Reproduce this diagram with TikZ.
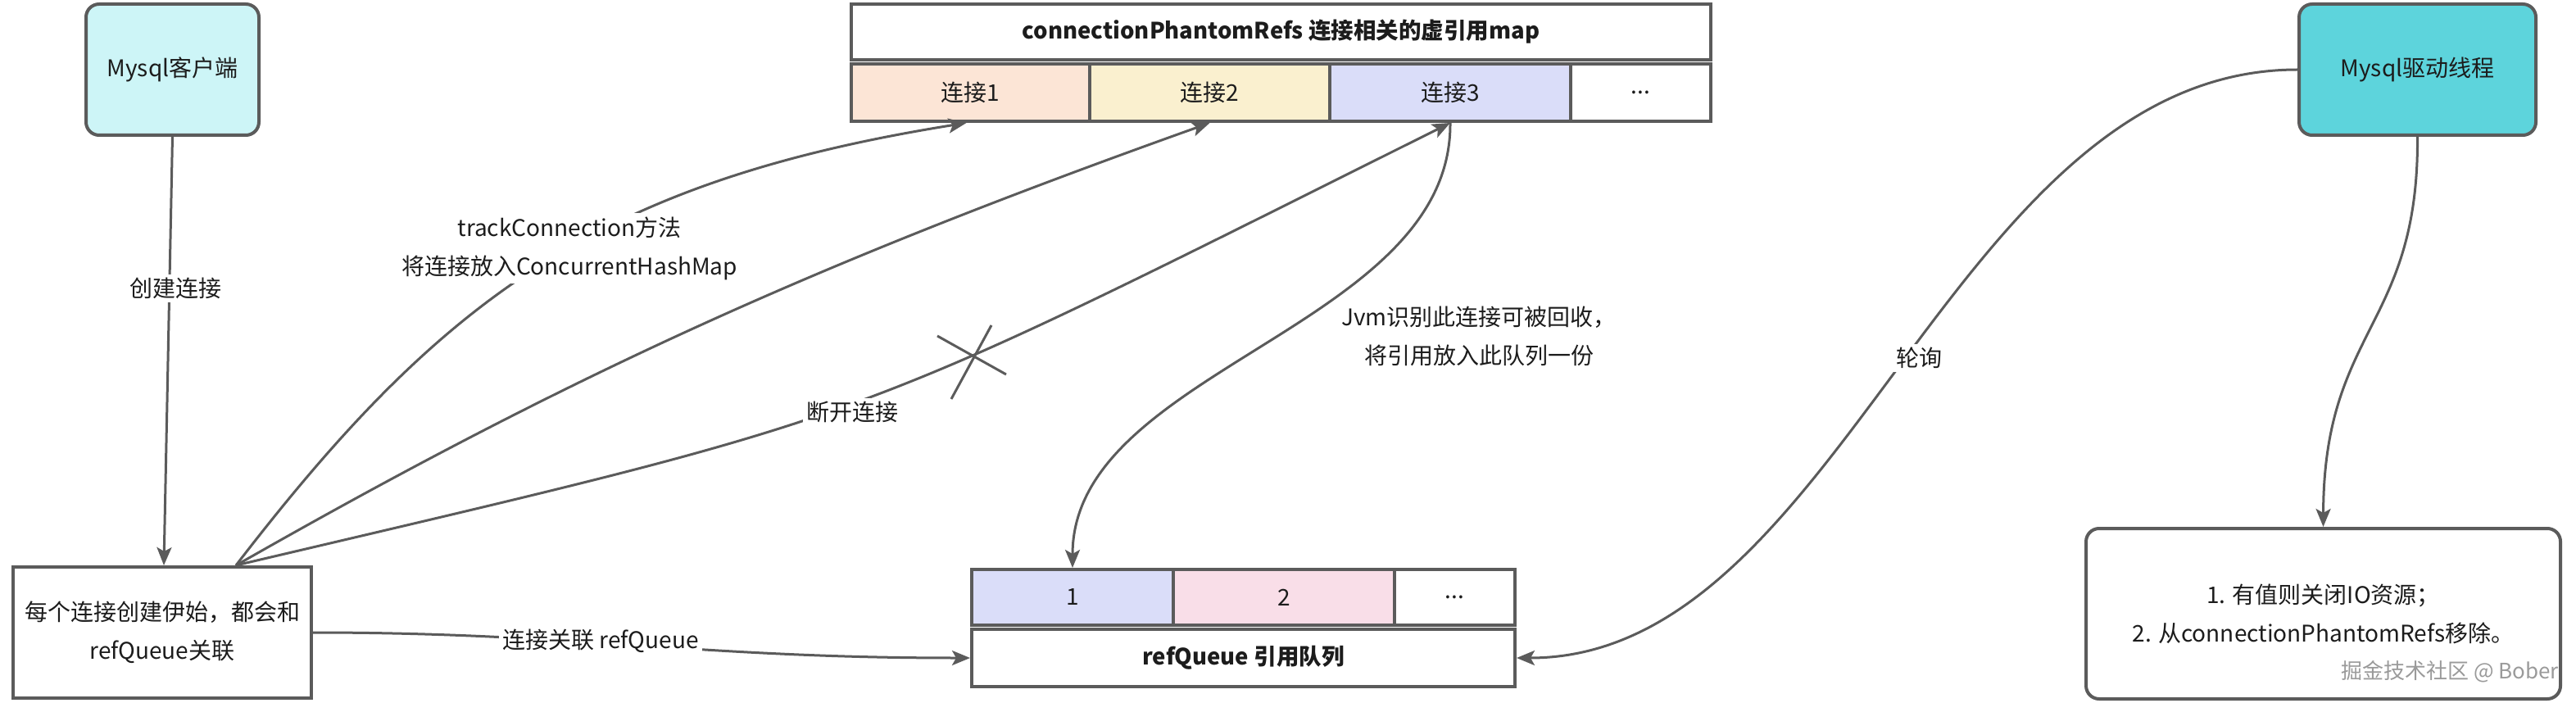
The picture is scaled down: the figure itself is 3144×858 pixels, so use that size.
\documentclass[tikz,border=0pt]{standalone}
\usepackage{fontspec}
\setmainfont{Noto Sans CJK SC}
\usetikzlibrary{arrows.meta}
\definecolor{ln}{HTML}{5B5B5B}
\definecolor{txt}{HTML}{1C1C1C}
\definecolor{cyanA}{HTML}{CDF5F7}
\definecolor{cyanB}{HTML}{5DD4DC}
\definecolor{peach}{HTML}{FCE5D6}
\definecolor{yel}{HTML}{FAF0CF}
\definecolor{lav}{HTML}{DADDF9}
\definecolor{pnk}{HTML}{F9DEE8}
\definecolor{wmc}{HTML}{9A9A9A}
\begin{document}
\begin{tikzpicture}[x=1pt,y=-1pt,
  base/.style={font=\fontsize{28}{47}\selectfont, text=txt, align=center, inner sep=0pt},
  sbox/.style={base, draw=ln, line width=4pt, fill=white},
  rbox/.style={sbox, rounded corners=16pt},
  bbox/.style={sbox, font=\fontsize{27.5}{47}\selectfont\bfseries},
  lbl/.style={base, fill=white, inner sep=4pt},
  arr/.style={draw=ln, line width=3pt, -{Stealth[length=22pt,width=18pt,inset=5pt]}},
  plain/.style={draw=ln, line width=3pt}]
\useasboundingbox (0,0) rectangle (3144,858);
\fill[white] (0,0) rectangle (3144,858);

% boxes
\node[rbox, fill=cyanA, minimum width=211pt, minimum height=160pt] (client) at (210.5,85) {Mysql客户端};
\node[rbox, fill=cyanB, minimum width=289pt, minimum height=160pt] (driver) at (2950.5,85) {Mysql驱动线程};
\node[sbox, minimum width=364pt, minimum height=160pt] (conn) at (198,772) {每个连接创建伊始，都会和\\refQueue关联};
\node[rbox, minimum width=579pt, minimum height=208pt] (result) at (2835.5,749) {1. 有值则关闭IO资源；\\2. 从connectionPhantomRefs移除。};

% map
\node[bbox, minimum width=1049pt, minimum height=68pt] (header) at (1563.5,39) {connectionPhantomRefs 连接相关的虚引用map};
\node[sbox, fill=peach, minimum width=291pt, minimum height=70pt] (c1) at (1184.5,113) {连接1};
\node[sbox, fill=yel, minimum width=293pt, minimum height=70pt] (c2) at (1476.5,113) {连接2};
\node[sbox, fill=lav, minimum width=294pt, minimum height=70pt] (c3) at (1770,113) {连接3};
\node[sbox, minimum width=171pt, minimum height=70pt] (c4) at (2002.5,113) {...};

% queue
\node[sbox, fill=lav, minimum width=246pt, minimum height=68pt] (q1) at (1309,729) {1};
\node[sbox, fill=pnk, minimum width=270pt, minimum height=68pt] (q2) at (1567,729) {2};
\node[sbox, minimum width=147pt, minimum height=68pt] (q3) at (1775.5,729) {...};
\node[bbox, minimum width=663pt, minimum height=70pt] (qbox) at (1517.5,803) {refQueue 引用队列};

% connectors
\coordinate (hub) at ([xshift=90pt]conn.north);
\draw[arr] (client.south) -- ([xshift=2pt]conn.north);
\draw[arr] (hub) .. controls (538,365) and (729,222) .. ([xshift=-5pt]c1.south);
\draw[arr] (hub) .. controls (700,455) and (1000,320) .. (c2.south);
\draw[arr] (hub) .. controls (1088,502) and (1018,525) .. (c3.south);
\draw[arr] (c3.south) .. controls (1772,400) and (1309,450) .. (q1.north);
\draw[arr] (conn.east) .. controls (700,772) and (850,803) .. (qbox.west);
\draw[arr] (driver.west) .. controls (2380,85) and (2250,803) .. (qbox.east);
\draw[arr] (driver.south) .. controls (2952,400) and (2836,400) .. (result.north);

% cross mark
\draw[plain] (1144,410) -- (1228,457);
\draw[plain] (1161,487) -- (1210,397);

% labels
\node[lbl] (lcreate) at (214,352) {创建连接};
\node[lbl] (ltrack) at (695,303) {trackConnection方法\\将连接放入ConcurrentHashMap};
\node[lbl] (ldisc) at (1040,503) {断开连接};
\node[base] (ljvm) at (1805,410) {Jvm识别此连接可被回收，\\将引用放入此队列一份};
\node[lbl] (lassoc) at (733,782) {连接关联 refQueue};
\node[lbl] (lpoll) at (2342,437) {轮询};
\node[base, font=\fontsize{26}{30}\selectfont, text=wmc] (wm) at (2990,820) {掘金技术社区 @ Bober};
\end{tikzpicture}
\end{document}
